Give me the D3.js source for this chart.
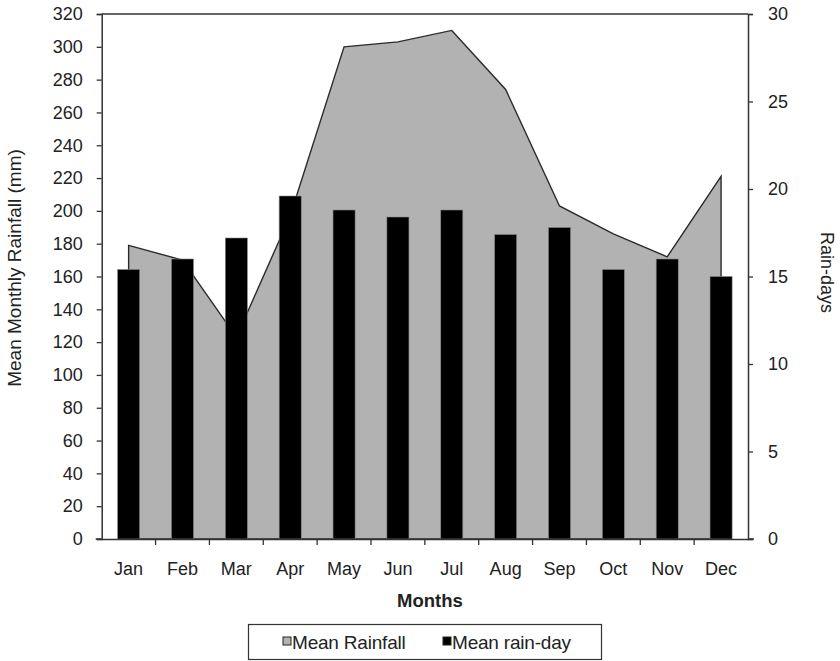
<!DOCTYPE html>
<html><head><meta charset="utf-8">
<script src="https://cdn.jsdelivr.net/npm/d3@7"></script>
<style>body{margin:0;background:#fff}svg{display:block;font-family:"Liberation Sans",Arial,sans-serif}</style>
</head><body><svg id="c" width="840" height="661"></svg>
<script>
const months = ["Jan","Feb","Mar","Apr","May","Jun","Jul","Aug","Sep","Oct","Nov","Dec"];
const rainfall = [179, 170, 123, 197, 300, 303, 310, 274, 203, 186, 172, 221];
const rainDays = [15.4, 16.0, 17.2, 19.6, 18.8, 18.4, 18.8, 17.4, 17.8, 15.4, 16.0, 15.0];
const leftTicks = d3.range(0, 321, 20);
const rightTicks = [0, 5, 10, 15, 20, 25, 30];

const svg = d3.select("#c");
const L = 101.7, R = 748, T = 14, B = 539;
const FS = 18;
const x = d3.scaleBand().domain(months).range([L, R]).paddingInner(0).paddingOuter(0);
const yL = d3.scaleLinear().domain([0, 320]).range([B, T]);
const yR = d3.scaleLinear().domain([0, 30]).range([B, T]);
const cx = m => x(m) + x.bandwidth() / 2;

// area
const area = d3.area().x((d, i) => cx(months[i])).y0(yL(0)).y1(d => yL(d));
svg.append("path").datum(rainfall).attr("d", area)
  .attr("fill", "#b2b2b2").attr("stroke", "#2b2b2b").attr("stroke-width", 1.4).attr("stroke-linejoin", "miter");

// bars
const bw = x.bandwidth() * 0.41;
svg.selectAll("rect.bar").data(rainDays).join("rect").attr("class", "bar")
  .attr("x", (d, i) => cx(months[i]) - bw / 2)
  .attr("width", bw)
  .attr("y", d => yR(d))
  .attr("height", d => yR(0) - yR(d))
  .attr("fill", "#000").attr("stroke", "#888").attr("stroke-width", 0.6);

// top border
svg.append("line").attr("x1", L).attr("x2", R).attr("y1", T).attr("y2", T)
  .attr("stroke", "#333").attr("stroke-width", 1.5);

function styleAxis(g) {
  g.selectAll(".domain").attr("stroke", "#333").attr("stroke-width", 1.5);
  g.selectAll(".tick line").attr("stroke", "#333").attr("stroke-width", 1.3);
  g.selectAll("text").attr("font-size", FS).attr("fill", "#222").attr("font-family", '"Liberation Sans",Arial,sans-serif');
}

// left axis
const gl = svg.append("g").attr("transform", `translate(${L},0)`)
  .call(d3.axisLeft(yL).tickValues(leftTicks).tickSize(5).tickSizeOuter(5).tickPadding(14));
styleAxis(gl);

// right axis
const gr = svg.append("g").attr("transform", `translate(${R},0)`)
  .call(d3.axisRight(yR).tickValues(rightTicks).tickSize(5).tickSizeOuter(5).tickPadding(15));
styleAxis(gr);

// bottom axis
const gb = svg.append("g").attr("transform", `translate(0,${B})`)
  .call(d3.axisBottom(x).tickSize(0).tickPadding(23));
styleAxis(gb);
gb.selectAll("line.sep").data(months.slice(1).map(m => x(m))).join("line").attr("class", "sep")
  .attr("x1", d => d).attr("x2", d => d).attr("y1", 0).attr("y2", 6)
  .attr("stroke", "#333").attr("stroke-width", 1.3);
gb.append("line").attr("x1", L - 6).attr("x2", L).attr("y1", 0).attr("y2", 0).attr("stroke", "#333").attr("stroke-width", 1.5);
gb.append("line").attr("x1", R).attr("x2", R + 6).attr("y1", 0).attr("y2", 0).attr("stroke", "#333").attr("stroke-width", 1.5);

// axis titles
svg.append("text").attr("x", 430).attr("y", 607).attr("text-anchor", "middle")
  .attr("font-size", 18.5).attr("font-weight", "bold").attr("fill", "#222").text("Months");
svg.append("text").attr("transform", `translate(21,268) rotate(-90)`).attr("text-anchor", "middle")
  .attr("font-size", 19).attr("fill", "#222").text("Mean Monthly Rainfall (mm)");
svg.append("text").attr("transform", `translate(821,${(T + B) / 2 - 4}) rotate(90)`).attr("text-anchor", "middle")
  .attr("font-size", FS).attr("fill", "#222").text("Rain-days");

// legend
const lg = svg.append("g");
lg.append("rect").attr("x", 248.5).attr("y", 624.5).attr("width", 353).attr("height", 35)
  .attr("fill", "#fff").attr("stroke", "#333").attr("stroke-width", 1.2);
const items = [{label: "Mean Rainfall", fill: "#b2b2b2", x: 283}, {label: "Mean rain-day", fill: "#000", x: 443}];
items.forEach(it => {
  lg.append("rect").attr("x", it.x).attr("y", 637).attr("width", 8).attr("height", 8)
    .attr("fill", it.fill).attr("stroke", "#222").attr("stroke-width", 1);
  lg.append("text").attr("x", it.x + 9).attr("y", 648.5).attr("font-size", 19).attr("fill", "#222")
    .attr("letter-spacing", "-0.2").text(it.label);
});
</script></body></html>
